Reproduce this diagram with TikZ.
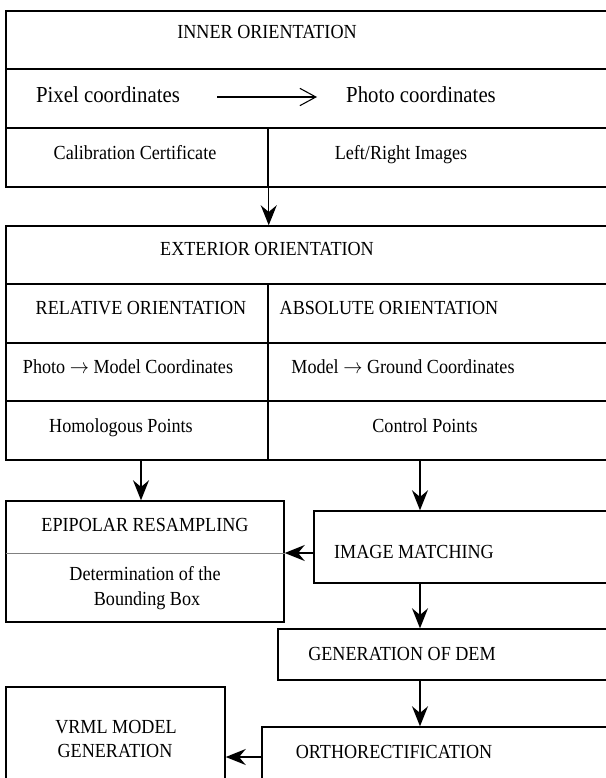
\documentclass[tikz,border=0pt]{standalone}
\usepackage{fontspec}
\usepackage{graphicx}
\setmainfont{Liberation Serif}
\usetikzlibrary{arrows.meta,fit}
\newcommand{\vst}[1]{\scalebox{1}[1.1]{#1}}
\begin{document}
\begin{tikzpicture}[x=0.75pt,y=-0.75pt,
  cell/.style={draw, line width=1.1pt, inner sep=0pt},
  lbl/.style={anchor=base, inner sep=0pt, font=\fontsize{13.6}{16}\selectfont},
  biglbl/.style={anchor=base, inner sep=0pt, font=\fontsize{15.6}{18}\selectfont},
  arr/.style={line width=1pt, -{Stealth[length=15pt, width=12pt, inset=5pt]}},
  thinarr/.style={line width=0.8pt, -{Straight Barb[length=12pt, width=13pt]}},
  divider/.style={draw=gray, line width=0.7pt}]
\useasboundingbox (0,0) rectangle (606,778);
\clip (0,0) rectangle (606,778);
% inner orientation block
\node[cell, fit={(6,11)(640,69)}] (inner) {};
\node[cell, fit={(6,69)(640,128)}] (pixrow) {};
\node[cell, fit={(6,128)(268,187)}] (calib) {};
\node[cell, fit={(268,128)(640,187)}] (lrimg) {};
\node[lbl] (tInner) at (267,38) {\vst{INNER ORIENTATION}};
\node[biglbl] (tPix) at (108,102) {\vst{Pixel coordinates}};
\node[biglbl] (tPhoto) at (421,102) {\vst{Photo coordinates}};
\node[lbl] (tCalib) at (135,159) {\vst{Calibration Certificate}};
\node[lbl] (tLR) at (401,159) {\vst{Left/Right Images}};
\coordinate (pa) at (217,97);
\coordinate (pb) at (317,97);
\draw[thinarr] (pa) -- (pb);
% exterior orientation block
\node[cell, fit={(6,226)(640,284)}] (ext) {};
\node[cell, fit={(6,284)(268,343)}] (rel) {};
\node[cell, fit={(268,284)(640,343)}] (abs) {};
\node[cell, fit={(6,343)(268,401)}] (relc) {};
\node[cell, fit={(268,343)(640,401)}] (absc) {};
\node[cell, fit={(6,401)(268,460)}] (homc) {};
\node[cell, fit={(268,401)(640,460)}] (ctrlc) {};
\node[lbl] (tExt) at (267,255) {\vst{EXTERIOR ORIENTATION}};
\node[lbl] (tRel) at (141,314) {\vst{RELATIVE ORIENTATION}};
\node[lbl] (tAbs) at (389,314) {\vst{ABSOLUTE ORIENTATION}};
\node[lbl] (tPM) at (128,373) {\vst{Photo $\rightarrow$ Model Coordinates}};
\node[lbl] (tMG) at (403,373) {\vst{Model $\rightarrow$ Ground Coordinates}};
\node[lbl] (tHom) at (121,432) {\vst{Homologous Points}};
\node[lbl] (tCtrl) at (425,432) {\vst{Control Points}};
% lower boxes
\node[cell, fit={(6,501)(284,622)}] (epi) {};
\coordinate (epimid) at (6,553);
\draw[divider] (epimid) -- (epimid -| epi.east);
\node[lbl] (tEpi) at (145,531) {\vst{EPIPOLAR RESAMPLING}};
\node[lbl] (tDet) at (145,580) {\vst{Determination of the}};
\node[lbl] (tBB) at (147,605) {\vst{Bounding Box}};
\node[cell, fit={(314,511)(640,583)}] (match) {};
\node[lbl] (tMatch) at (414,558) {\vst{IMAGE MATCHING}};
\node[cell, fit={(278,629)(640,680)}] (dem) {};
\node[lbl] (tDem) at (402,660) {\vst{GENERATION OF DEM}};
\node[cell, fit={(262,727)(640,800)}] (ortho) {};
\node[lbl] (tOrtho) at (394,758) {\vst{ORTHORECTIFICATION}};
\node[cell, fit={(6,687)(225,800)}] (vrml) {};
\node[lbl] (tVrml1) at (116,733) {\vst{VRML MODEL}};
\node[lbl] (tVrml2) at (115,757) {\vst{GENERATION}};
% connectors
\coordinate (cx) at (420,0);
\coordinate (lx) at (141,0);
\coordinate (vy) at (0,757);
\draw[arr] (calib.south east) -- (calib.south east |- ext.north);
\draw[arr] (homc.south -| lx) -- (epi.north -| lx);
\draw[arr] (ctrlc.south -| cx) -- (match.north -| cx);
\draw[arr] (match.west |- epimid) -- (epi.east |- epimid);
\draw[arr] (match.south -| cx) -- (dem.north -| cx);
\draw[arr] (dem.south -| cx) -- (ortho.north -| cx);
\draw[arr] (ortho.west |- vy) -- (vrml.east |- vy);
\end{tikzpicture}
\end{document}
